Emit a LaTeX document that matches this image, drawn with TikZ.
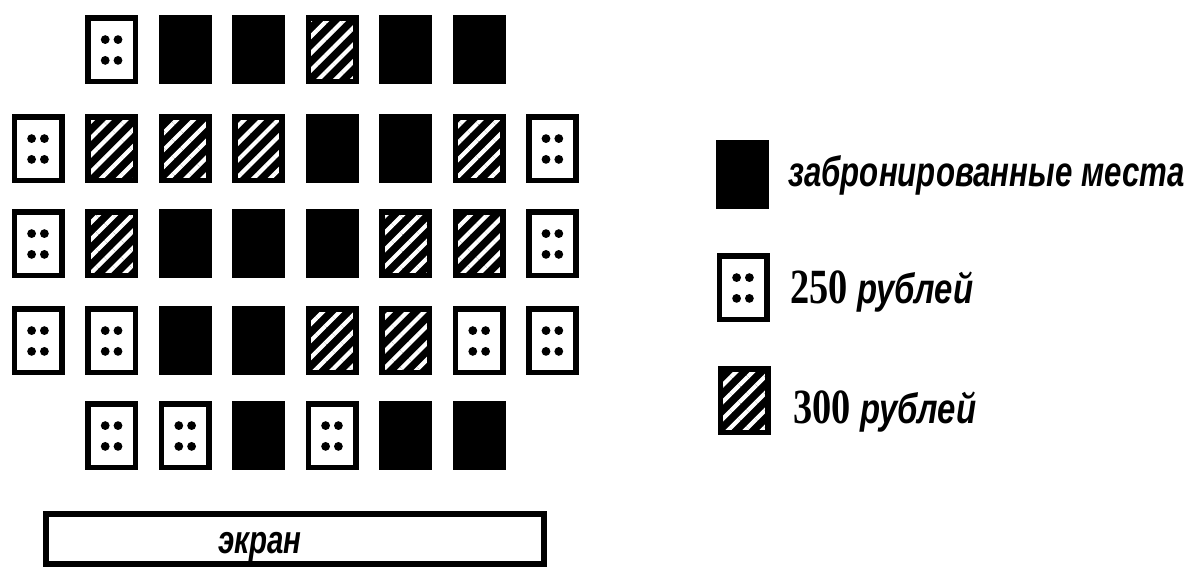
\documentclass[tikz,border=0pt]{standalone}
\usepackage{fontspec}
\setmainfont{Liberation Sans}
\newfontfamily\numfont{Liberation Serif}
\usetikzlibrary{patterns.meta}
\newcommand{\narrow}[2][0.8]{\scalebox{#1}[1]{#2}}
\tikzset{
  seatB/.style = {rectangle, draw, line width=0.14cm, fill=black, inner sep=0pt,
                  minimum width=1.185cm, minimum height=1.585cm},
  seatL/.style = {rectangle, draw, line width=0.14cm, fill=white, inner sep=0pt,
                  minimum width=1.185cm, minimum height=1.585cm,
                  path picture={
                    \foreach \dx in {-0.16,0.16}
                      \foreach \dy in {-0.26,0.26}
                        \fill[black] ([shift={(\dx,\dy)}]path picture bounding box.center) circle (0.11cm);
                  }},
  seatH/.style = {rectangle, draw, line width=0.14cm, inner sep=0pt,
                  minimum width=1.185cm, minimum height=1.585cm,
                  preaction={fill=black},
                  pattern={Lines[angle=45, distance=8.5pt, line width=3pt]},
                  pattern color=white},
  legtext/.style = {anchor=base west, inner sep=0pt,
                    font=\fontsize{30}{32}\selectfont\bfseries\itshape},
}

\begin{document}
\begin{tikzpicture}
    \useasboundingbox (0,0) rectangle (30.075,14.175);

    %% ===================== ROW 1 =====================
    \node[seatL] (r1c1) at ( 2.79, 12.925) {};
    \node[seatB] (r1c2) at ( 4.63, 12.925) {};
    \node[seatB] (r1c3) at ( 6.46, 12.925) {};
    \node[seatH] (r1c4) at ( 8.30, 12.925) {};
    \node[seatB] (r1c5) at (10.14, 12.925) {};
    \node[seatB] (r1c6) at (11.98, 12.925) {};

    %% ===================== ROW 2 =====================
    \node[seatL] (r2c0) at ( 0.95, 10.45) {};
    \node[seatH] (r2c1) at ( 2.79, 10.45) {};
    \node[seatH] (r2c2) at ( 4.63, 10.45) {};
    \node[seatH] (r2c3) at ( 6.46, 10.45) {};
    \node[seatB] (r2c4) at ( 8.30, 10.45) {};
    \node[seatB] (r2c5) at (10.14, 10.45) {};
    \node[seatH] (r2c6) at (11.98, 10.45) {};
    \node[seatL] (r2c7) at (13.81, 10.45) {};

    %% ===================== ROW 3 =====================
    \node[seatL] (r3c0) at ( 0.95, 8.075) {};
    \node[seatH] (r3c1) at ( 2.79, 8.075) {};
    \node[seatB] (r3c2) at ( 4.63, 8.075) {};
    \node[seatB] (r3c3) at ( 6.46, 8.075) {};
    \node[seatB] (r3c4) at ( 8.30, 8.075) {};
    \node[seatH] (r3c5) at (10.14, 8.075) {};
    \node[seatH] (r3c6) at (11.98, 8.075) {};
    \node[seatL] (r3c7) at (13.81, 8.075) {};

    %% ===================== ROW 4 =====================
    \node[seatL] (r4c0) at ( 0.95, 5.65) {};
    \node[seatL] (r4c1) at ( 2.79, 5.65) {};
    \node[seatB] (r4c2) at ( 4.63, 5.65) {};
    \node[seatB] (r4c3) at ( 6.46, 5.65) {};
    \node[seatH] (r4c4) at ( 8.30, 5.65) {};
    \node[seatH] (r4c5) at (10.14, 5.65) {};
    \node[seatL] (r4c6) at (11.98, 5.65) {};
    \node[seatL] (r4c7) at (13.81, 5.65) {};

    %% ===================== ROW 5 =====================
    \node[seatL] (r5c1) at ( 2.79, 3.275) {};
    \node[seatL] (r5c2) at ( 4.63, 3.275) {};
    \node[seatB] (r5c3) at ( 6.46, 3.275) {};
    \node[seatL] (r5c4) at ( 8.30, 3.275) {};
    \node[seatB] (r5c5) at (10.14, 3.275) {};
    \node[seatB] (r5c6) at (11.98, 3.275) {};

    %% ===================== SCREEN =====================
    \node[rectangle, draw, line width=0.14cm, inner sep=0pt,
          minimum width=12.45cm, minimum height=1.25cm] (screen) at (7.375, 0.70) {};
    \node[anchor=base, inner sep=0pt, font=\fontsize{28}{30}\selectfont\bfseries\itshape]
         (screenlbl) at (6.5, 0.33) {\narrow[0.75]{экран}};

    %% ===================== LEGEND =====================
    \node[seatB] (legB) at (18.55, 9.80)  {};
    \node[seatL] (legL) at (18.575, 6.975) {};
    \node[seatH] (legH) at (18.6, 4.15)   {};

    \node[legtext] (txtB) at (19.7, 9.5)
         {\narrow[0.74]{забронированные места}};
    \node[legtext] (txtL) at (19.75, 6.575)
         {\narrow[0.78]{{\numfont\upshape\fontsize{35}{37}\selectfont 250} рублей}};
    \node[legtext] (txtH) at (19.825, 3.575)
         {\narrow[0.78]{{\numfont\upshape\fontsize{35}{37}\selectfont 300} рублей}};

\end{tikzpicture}
\end{document}
